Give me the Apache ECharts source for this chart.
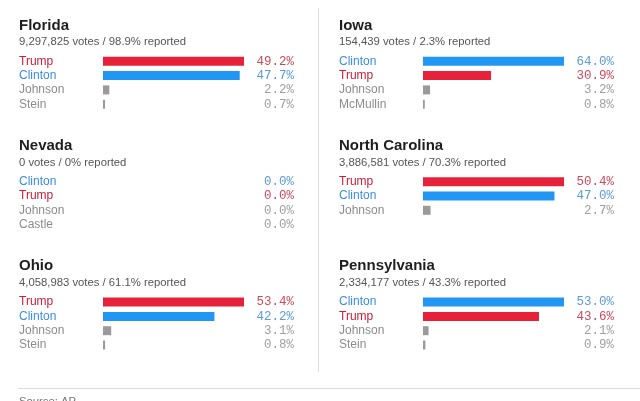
<!DOCTYPE html>
<html>
<head>
<meta charset="utf-8">
<script src="https://cdn.jsdelivr.net/npm/echarts@6/dist/echarts.min.js"></script>
<style>
  html, body { margin: 0; padding: 0; background: #fff; }
  #chart { width: 640px; height: 401px; }
</style>
</head>
<body>
<div id="chart"></div>
<script>
// ---- Data ----
const stateNames = ['Florida', 'Iowa', 'Nevada', 'North Carolina', 'Ohio', 'Pennsylvania'];
const stateSubtitles = [
  '9,297,825 votes / 98.9% reported',
  '154,439 votes / 2.3% reported',
  '0 votes / 0% reported',
  '3,886,581 votes / 70.3% reported',
  '4,058,983 votes / 61.1% reported',
  '2,334,177 votes / 43.3% reported'
];
const floridaCandidates = ['Trump', 'Clinton', 'Johnson', 'Stein'];
const floridaValues = [49.2, 47.7, 2.2, 0.7];
const iowaCandidates = ['Clinton', 'Trump', 'Johnson', 'McMullin'];
const iowaValues = [64.0, 30.9, 3.2, 0.8];
const nevadaCandidates = ['Clinton', 'Trump', 'Johnson', 'Castle'];
const nevadaValues = [0.0, 0.0, 0.0, 0.0];
const northCarolinaCandidates = ['Trump', 'Clinton', 'Johnson'];
const northCarolinaValues = [50.4, 47.0, 2.7];
const ohioCandidates = ['Trump', 'Clinton', 'Johnson', 'Stein'];
const ohioValues = [53.4, 42.2, 3.1, 0.8];
const pennsylvaniaCandidates = ['Clinton', 'Trump', 'Johnson', 'Stein'];
const pennsylvaniaValues = [53.0, 43.6, 2.1, 0.9];
const sourceText = 'Source: AP';

const panelCandidates = [floridaCandidates, iowaCandidates, nevadaCandidates, northCarolinaCandidates, ohioCandidates, pennsylvaniaCandidates];
const panelValues = [floridaValues, iowaValues, nevadaValues, northCarolinaValues, ohioValues, pennsylvaniaValues];

// ---- Styles ----
const barColor = { Trump: '#e8213b', Clinton: '#2196f3' };
const nameColor = { Trump: '#c8203a', Clinton: '#3a8ee0' };
const valueColor = { Trump: '#cc4a5e', Clinton: '#5b9bdc' };
const otherBar = '#9a9a9a';
const otherName = '#8c8c8c';
const otherValue = '#a0a0a0';
const sans = '"Liberation Sans", Arial, sans-serif';
const mono = '"Liberation Mono", "DejaVu Sans Mono", monospace';

const colX = [19, 339];
const rowY = [0, 120.4, 240.8];
const band = 14.3;

const titles = [], grids = [], xAxes = [], yAxes = [], series = [];
panelCandidates.forEach((cands, i) => {
  const col = i % 2, row = Math.floor(i / 2);
  const x0 = colX[col], y0 = rowY[row];
  const vals = panelValues[i];
  titles.push({
    text: stateNames[i], left: x0, top: y0 + 18, padding: 0,
    textStyle: { fontFamily: sans, fontSize: 15, fontWeight: 'bold', color: '#1e1e1e' }
  });
  titles.push({
    text: stateSubtitles[i], left: x0, top: y0 + 36.5, padding: 0,
    textStyle: { fontFamily: sans, fontSize: 11.3, fontWeight: 'normal', color: '#555' }
  });
  const gLeft = x0 + 84;
  grids.push({ left: gLeft, width: 141, top: y0 + 61.3 - band / 2, height: band * cands.length,
    containLabel: false, outerBoundsMode: 'none' });
  const mx = Math.max(...vals) || 1;
  xAxes.push({ gridIndex: i, type: 'value', min: 0, max: mx, show: false });
  yAxes.push({
    gridIndex: i, type: 'category', inverse: true, position: 'left',
    data: cands.map(c => ({ value: c, textStyle: { color: nameColor[c] || otherName, align: 'left', fontFamily: sans, fontSize: 12 } })),
    axisLine: { show: false }, axisTick: { show: false }, splitLine: { show: false },
    axisLabel: { interval: 0, align: 'left', margin: 84, fontFamily: sans, fontSize: 12 }
  });
  yAxes.push({
    gridIndex: i, type: 'category', inverse: true, position: 'right',
    data: vals.map((v, k) => ({ value: v.toFixed(1) + '%' + '\u200b'.repeat(k),
      textStyle: { color: valueColor[cands[k]] || otherValue, align: 'right', fontFamily: mono, fontSize: 12.5 } })),
    axisLine: { show: false }, axisTick: { show: false }, splitLine: { show: false },
    axisLabel: { interval: 0, align: 'right', margin: 50, fontFamily: mono, fontSize: 12.5,
      formatter: v => v.replace(/\u200b/g, '') }
  });
  series.push({
    type: 'bar', xAxisIndex: i, yAxisIndex: i * 2, barWidth: 9, silent: true,
    data: vals.map((v, k) => ({ value: v, itemStyle: { color: barColor[cands[k]] || otherBar } }))
  });
});

const chart = echarts.init(document.getElementById('chart'), null, { renderer: 'canvas' });
chart.setOption({
  animation: false,
  backgroundColor: '#fff',
  title: titles,
  grid: grids,
  xAxis: xAxes,
  yAxis: yAxes,
  series: series,
  graphic: [
    { type: 'line', shape: { x1: 318.5, y1: 8, x2: 318.5, y2: 372 }, style: { stroke: '#dddddd', lineWidth: 1 } },
    { type: 'line', shape: { x1: 18, y1: 388.5, x2: 640, y2: 388.5 }, style: { stroke: '#dddddd', lineWidth: 1 } },
    { type: 'text', left: 19, top: 396, style: { text: sourceText, fontFamily: sans, fontSize: 11.3, fill: '#777' } }
  ]
});
</script>
</body>
</html>
